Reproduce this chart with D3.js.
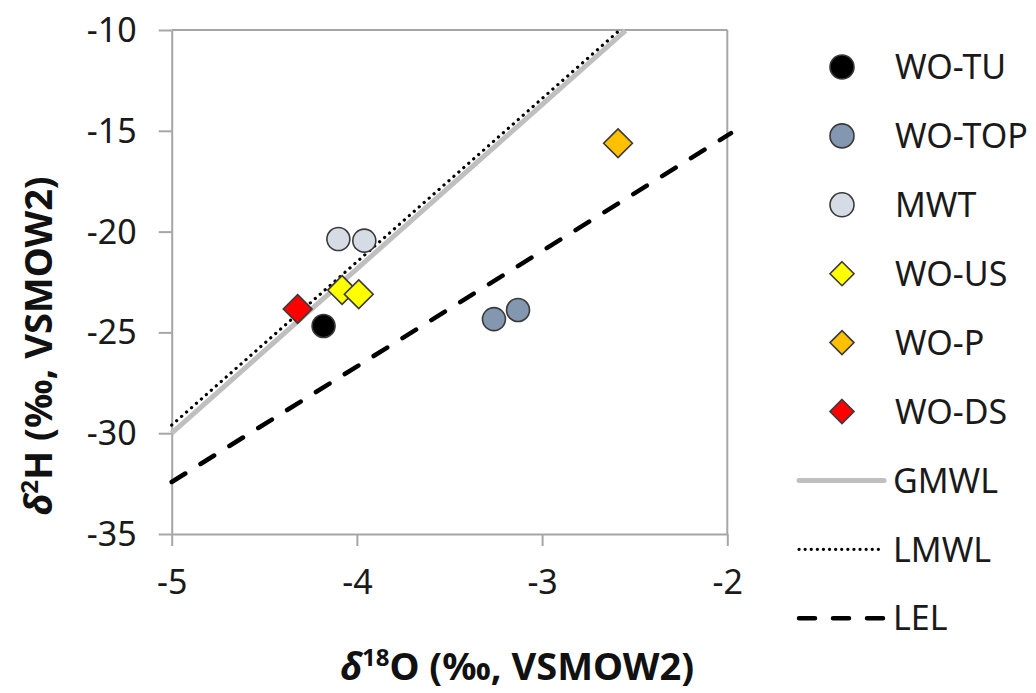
<!DOCTYPE html>
<html>
<head>
<meta charset="utf-8">
<script src="https://cdn.jsdelivr.net/npm/d3@7"></script>
<style>
    body { margin: 0; background: #fff; }
    svg { display: block; font-family: "Noto Sans", sans-serif; }
</style>
</head>
<body>
<svg id="chart" width="1036" height="693"></svg>
<script>
// Isotope plot: d2H vs d18O
const xTicks = [-5, -4, -3, -2];
const yTicks = [-10, -15, -20, -25, -30, -35];

const seriesNames = ["WO-TU", "WO-TOP", "MWT", "WO-US", "WO-P", "WO-DS"];
const seriesShapes = ["circle", "circle", "circle", "diamond", "diamond", "diamond"];
const seriesColors = ["#000000", "#8497b0", "#d6dce5", "#ffff00", "#ffc000", "#ff0000"];

// [d18O, d2H]
const woTU = [[-4.18, -24.68]];
const woTOP = [[-3.26, -24.34], [-3.13, -23.89]];
const mwt = [[-4.10, -20.37], [-3.96, -20.45]];
const woUS = [[-4.08, -22.90], [-3.99, -23.11]];
const woP = [[-2.59, -15.62]];
const woDS = [[-4.32, -23.84]];
const seriesPoints = [woTU, woTOP, mwt, woUS, woP, woDS];

// reference lines: slope, intercept, x range
const lineNames = ["GMWL", "LMWL", "LEL"];
const lineSlopes = [8.15, 8.1, 5.73];
const lineIntercepts = [10.75, 10.9, -3.77];
const lineXRange = [[-5, -2.55], [-5, -2.58], [-5, -1.98]];

const svg = d3.select("#chart");
const x = d3.scaleLinear().domain([-5, -2]).range([171.7, 727.3]);
const y = d3.scaleLinear().domain([-35, -10]).range([534, 30]);

const axisColor = "#a6a6a6";

// frame (top + right border)
svg.append("line").attr("x1", x(-5)).attr("x2", x(-2)).attr("y1", y(-10)).attr("y2", y(-10))
    .attr("stroke", axisColor).attr("stroke-width", 2);
svg.append("line").attr("x1", x(-2)).attr("x2", x(-2)).attr("y1", y(-10)).attr("y2", y(-35))
    .attr("stroke", axisColor).attr("stroke-width", 2);

const xAxis = svg.append("g")
    .attr("transform", `translate(0,${y(-35)})`)
    .call(d3.axisBottom(x).tickValues(xTicks).tickFormat(d => String(d)).tickSize(12).tickSizeOuter(0).tickPadding(22));
const yAxis = svg.append("g")
    .attr("transform", `translate(${x(-5)},0)`)
    .call(d3.axisLeft(y).tickValues(yTicks).tickFormat(d => String(d)).tickSize(13).tickSizeOuter(0).tickPadding(22));

[xAxis, yAxis].forEach(g => {
    g.select(".domain").attr("stroke", axisColor).attr("stroke-width", 2);
    g.selectAll(".tick line").attr("stroke", axisColor).attr("stroke-width", 2);
    g.selectAll(".tick text").attr("fill", "#1a1a1a").style("font-size", "34px").style("font-family", "Noto Sans");
});
yAxis.selectAll(".tick text").attr("dy", "0.34em");
xAxis.selectAll(".tick text").attr("dy", "0.75em");

// reference lines
const lineStyles = [
    { stroke: "#bfbfbf", width: 5, dash: null, cap: "butt" },
    { stroke: "#000000", width: 3.2, dash: "0.1 6.5", cap: "round" },
    { stroke: "#000000", width: 4.5, dash: "16 18", cap: "round" }
];
const plot = svg.append("g");
lineNames.forEach((name, i) => {
    const pts = lineXRange[i].map(v => [v, lineSlopes[i] * v + lineIntercepts[i]]);
    const st = lineStyles[i];
    plot.append("path")
        .attr("d", d3.line().x(d => x(d[0])).y(d => y(d[1]))(pts))
        .attr("fill", "none")
        .attr("stroke", st.stroke)
        .attr("stroke-width", st.width)
        .attr("stroke-linecap", st.cap)
        .attr("stroke-dasharray", st.dash);
});

// markers
function drawMarker(g, shape, cx, cy, color, size) {
    if (shape === "circle") {
        g.append("circle").attr("cx", cx).attr("cy", cy).attr("r", size)
            .attr("fill", color).attr("stroke", "#3a3a3a").attr("stroke-width", 1.6);
    } else {
        const s = size * 1.25;
        g.append("path")
            .attr("d", `M${cx},${cy - s}L${cx + s},${cy}L${cx},${cy + s}L${cx - s},${cy}Z`)
            .attr("fill", color).attr("stroke", "#3a3a3a").attr("stroke-width", 1.6);
    }
}
seriesNames.forEach((name, i) => {
    seriesPoints[i].forEach(p => {
        drawMarker(plot, seriesShapes[i], x(p[0]), y(p[1]), seriesColors[i], 11.5);
    });
});

// axis titles
svg.append("text")
    .attr("x", 517).attr("y", 680)
    .attr("text-anchor", "middle")
    .style("font-size", "38px").style("font-weight", "bold").attr("fill", "#111")
    .call(t => {
        t.append("tspan").style("font-style", "italic").text("δ");
        t.append("tspan").attr("dy", -14).style("font-size", "24px").text("18");
        t.append("tspan").attr("dy", 14).text("O (‰, VSMOW2)");
    });
svg.append("text")
    .attr("transform", "translate(52,346) rotate(-90)")
    .attr("text-anchor", "middle")
    .style("font-size", "38px").style("font-weight", "bold").attr("fill", "#111")
    .call(t => {
        t.append("tspan").style("font-style", "italic").text("δ");
        t.append("tspan").attr("dy", -14).style("font-size", "24px").text("2");
        t.append("tspan").attr("dy", 14).text("H (‰, VSMOW2)");
    });

// legend
const legend = svg.append("g");
const legY0 = 67, legStep = 68.9;
seriesNames.forEach((name, i) => {
    const ly = legY0 + i * legStep;
    drawMarker(legend, seriesShapes[i], 842, ly, seriesColors[i], i < 3 ? 12 : 9.6);
    legend.append("text").attr("x", 895).attr("y", ly).attr("dy", "0.36em")
        .style("font-size", "34px").attr("fill", "#1a1a1a").text(name);
});
lineNames.forEach((name, i) => {
    const ly = legY0 + (seriesNames.length + i) * legStep;
    const st = lineStyles[i];
    legend.append("line")
        .attr("x1", 799).attr("x2", 884).attr("y1", ly).attr("y2", ly)
        .attr("stroke", st.stroke)
        .attr("stroke-width", st.width)
        .attr("stroke-linecap", i === 0 ? "round" : st.cap)
        .attr("stroke-dasharray", i === 1 ? "0.1 6" : st.dash);
    legend.append("text").attr("x", 893).attr("y", ly).attr("dy", "0.36em")
        .style("font-size", "34px").attr("fill", "#1a1a1a").text(name);
});
</script>
</body>
</html>
